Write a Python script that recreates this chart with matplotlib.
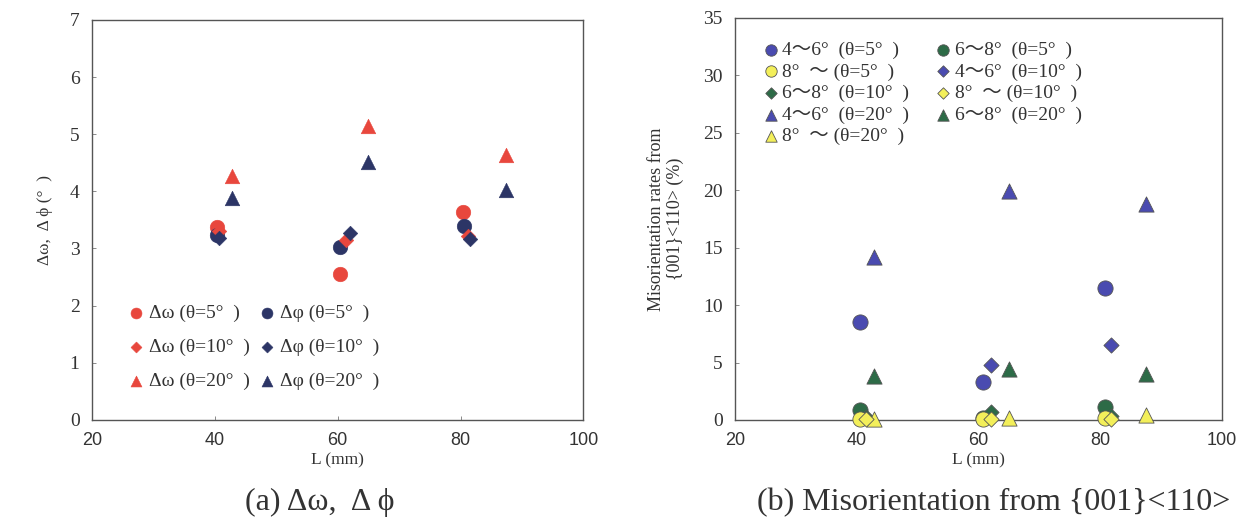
import matplotlib
matplotlib.use("Agg")
import matplotlib.pyplot as plt

# ---------------- data: panel (a) ----------------
dw5_L = [40.3, 60.4, 80.4]
dw5_v = [3.37, 2.55, 3.63]
dp5_L = [40.4, 60.3, 80.5]
dp5_v = [3.24, 3.03, 3.39]
dw10_L = [40.6, 61.4, 81.2]
dw10_v = [3.30, 3.14, 3.22]
dp10_L = [40.6, 62.0, 81.6]
dp10_v = [3.19, 3.27, 3.17]
dw20_L = [42.8, 65.0, 87.4]
dw20_v = [4.26, 5.14, 4.63]
dp20_L = [42.8, 65.0, 87.4]
dp20_v = [3.89, 4.52, 4.03]

# ---------------- data: panel (b) ----------------
a46_5_L = [40.5, 60.7, 80.8]
a46_5_v = [8.5, 3.3, 11.5]
a68_5_L = [40.5, 60.7, 80.8]
a68_5_v = [0.85, 0.2, 1.1]
a8_5_L = [40.5, 60.7, 80.8]
a8_5_v = [0.1, 0.1, 0.15]
a46_10_L = [62.0, 81.8]
a46_10_v = [4.8, 6.5]
a68_10_L = [41.5, 62.0, 81.8]
a68_10_v = [0.3, 0.65, 0.35]
a8_10_L = [41.5, 62.0, 81.8]
a8_10_v = [0.05, 0.1, 0.1]
a46_20_L = [42.8, 65.0, 87.6]
a46_20_v = [14.2, 19.9, 18.8]
a68_20_L = [42.8, 65.0, 87.6]
a68_20_v = [3.8, 4.45, 4.0]
a8_20_L = [42.8, 65.0, 87.6]
a8_20_v = [0.1, 0.2, 0.45]

x_ticks = [20, 40, 60, 80, 100]
ya_ticks = [0, 1, 2, 3, 4, 5, 6, 7]
yb_ticks = [0, 5, 10, 15, 20, 25, 30, 35]

RED = "#e8473d"
NAVY = "#2c3566"
PURPLE = "#4a4bb0"
GREEN = "#2d6b47"
YELLOW = "#f3ef5a"

SERIF = ["Liberation Serif", "Noto Sans CJK JP", "DejaVu Serif"]
SANS = ["Liberation Sans", "DejaVu Sans"]
plt.rcParams["font.family"] = SERIF

fig = plt.figure(figsize=(12.44, 5.23), dpi=100)
axa = fig.add_axes([0.074, 0.197, 0.395, 0.765])
axb = fig.add_axes([0.591, 0.197, 0.391, 0.769])

def style_axes(ax, yticks):
    ax.set_xlim(20, 100)
    ax.set_ylim(yticks[0], yticks[-1])
    ax.set_xticks(x_ticks)
    ax.set_yticks(yticks)
    ax.tick_params(direction="in", length=3, width=0.6, colors="#777777",
                   labelcolor="#333333", labelsize=14, pad=9)
    for lab in ax.get_xticklabels():
        lab.set_family(SANS)
        lab.set_fontsize(13)
    for lab in ax.get_yticklabels():
        lab.set_family(SERIF)
    for s in ax.spines.values():
        s.set_color("#555555")
        s.set_linewidth(1.0)
    ax.set_xlabel("L (mm)", fontsize=12.5, color="#333333", labelpad=2)

style_axes(axa, ya_ticks)
style_axes(axb, yb_ticks)

ms = 110
kw = dict(linewidths=0.4)
axa.scatter(dw5_L, dw5_v, marker="o", s=ms, c=RED, edgecolors=RED, label="Δω (θ=5°  )", **kw)
axa.scatter(dp5_L, dp5_v, marker="o", s=ms, c=NAVY, edgecolors=NAVY, label="Δφ (θ=5°  )", **kw)
axa.scatter(dw10_L, dw10_v, marker="D", s=55, c=RED, edgecolors=RED, label="Δω (θ=10°  )", **kw)
axa.scatter(dp10_L, dp10_v, marker="D", s=55, c=NAVY, edgecolors=NAVY, label="Δφ (θ=10°  )", **kw)
axa.scatter(dw20_L, dw20_v, marker="^", s=ms, c=RED, edgecolors=RED, label="Δω (θ=20°  )", **kw)
axa.scatter(dp20_L, dp20_v, marker="^", s=ms, c=NAVY, edgecolors=NAVY, label="Δφ (θ=20°  )", **kw)
axa.set_ylabel("Δω,  Δ ϕ (°  )", fontsize=12.5, color="#333333", labelpad=12)

ha, la = axa.get_legend_handles_labels()
order = [0, 2, 4, 1, 3, 5]
leg = axa.legend([ha[i] for i in order], [la[i] for i in order], ncol=2,
                 loc="lower left", bbox_to_anchor=(0.03, 0.03), frameon=False,
                 fontsize=14, handletextpad=0.05, columnspacing=0.3,
                 labelspacing=0.85, markerscale=0.75, handlelength=1.2)
for t in leg.get_texts():
    t.set_color("#333333")

ek = dict(edgecolors="#555555", linewidths=0.6)
sb = 120
axb.scatter(a46_5_L, a46_5_v, marker="o", s=sb, c=PURPLE, label="4～6°  (θ=5°  )", zorder=3, **ek)
axb.scatter(a68_5_L, a68_5_v, marker="o", s=sb, c=GREEN, label="6～8°  (θ=5°  )", zorder=3, **ek)
axb.scatter(a8_5_L, a8_5_v, marker="o", s=sb, c=YELLOW, label="8°  ～ (θ=5°  )", zorder=4, **ek)
axb.scatter(a46_10_L, a46_10_v, marker="D", s=60, c=PURPLE, label="4～6°  (θ=10°  )", zorder=3, **ek)
axb.scatter(a68_10_L, a68_10_v, marker="D", s=60, c=GREEN, label="6～8°  (θ=10°  )", zorder=3, **ek)
axb.scatter(a8_10_L, a8_10_v, marker="D", s=60, c=YELLOW, label="8°  ～ (θ=10°  )", zorder=5, **ek)
axb.scatter(a46_20_L, a46_20_v, marker="^", s=sb, c=PURPLE, label="4～6°  (θ=20°  )", zorder=3, **ek)
axb.scatter(a68_20_L, a68_20_v, marker="^", s=sb, c=GREEN, label="6～8°  (θ=20°  )", zorder=3, **ek)
axb.scatter(a8_20_L, a8_20_v, marker="^", s=sb, c=YELLOW, label="8°  ～ (θ=20°  )", zorder=4, **ek)
axb.set_ylabel("Misorientation rates from\n{001}<110> (%)", fontsize=13,
               color="#333333", labelpad=14, linespacing=1.1)
for c in axb.collections:
    c.set_clip_on(False)

hb, lb = axb.get_legend_handles_labels()
orderb = [0, 2, 4, 6, 8, 1, 3, 5, 7]
legb = axb.legend([hb[i] for i in orderb], [lb[i] for i in orderb], ncol=2,
                  loc="upper left", bbox_to_anchor=(0.015, 0.985), frameon=False,
                  fontsize=14, handletextpad=0.05, columnspacing=1.2,
                  labelspacing=0.2, markerscale=0.75, handlelength=1.1)
for t in legb.get_texts():
    t.set_color("#333333")

fig.text(0.257, 0.025, "(a) Δω,  Δ ϕ", ha="center", fontsize=23, color="#333333")
fig.text(0.799, 0.025, "(b) Misorientation from {001}<110>", ha="center", fontsize=23, color="#333333")

fig.savefig("out.png", dpi=100, facecolor="white")
